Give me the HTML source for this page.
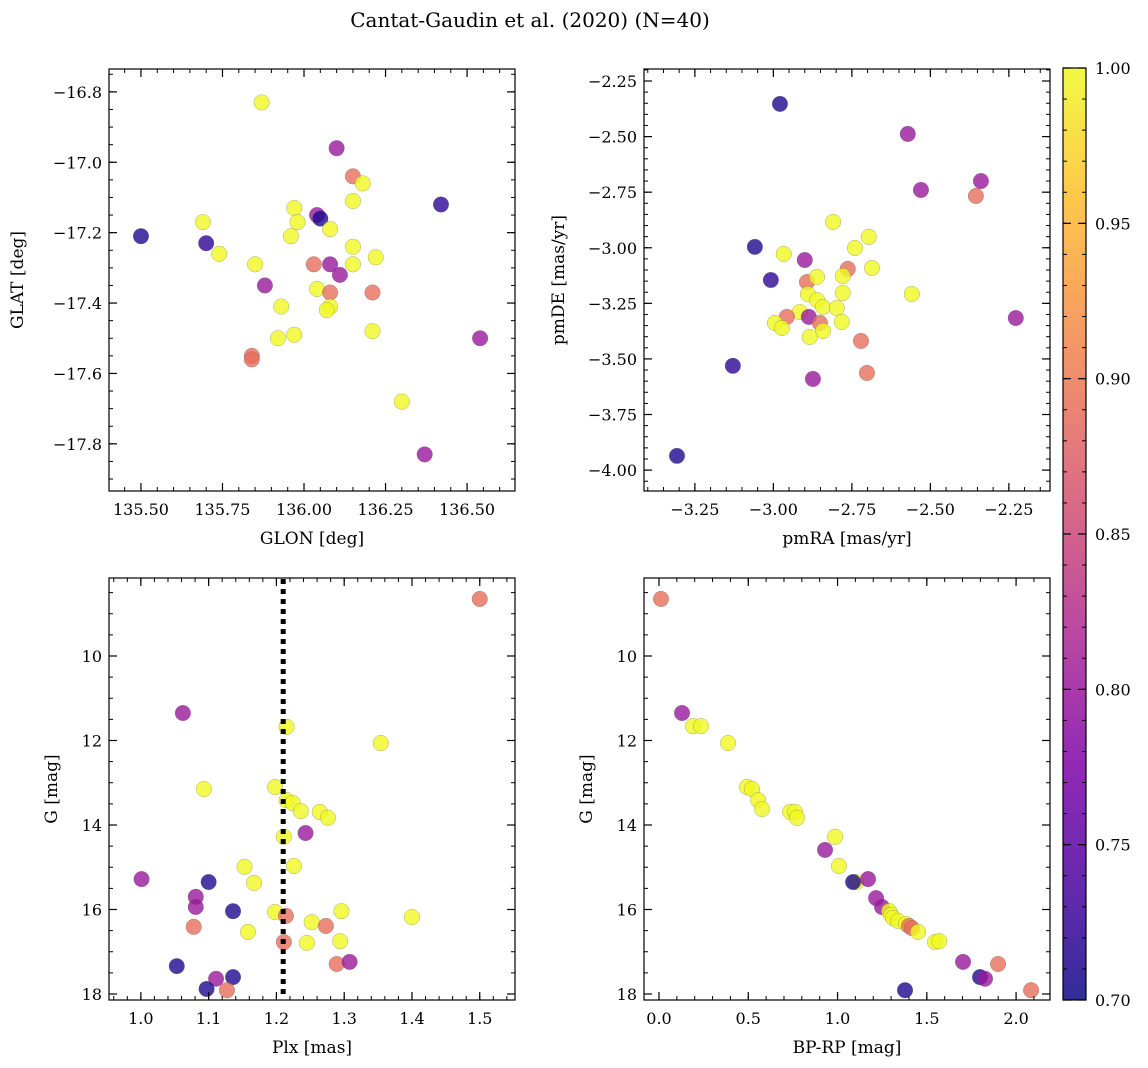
<!DOCTYPE html>
<html><head><meta charset="utf-8"><style>
body{margin:0;background:#fff}
svg{display:block;font-family:"DejaVu Serif","Liberation Serif",serif}
</style></head><body>
<svg id="fig" width="1148" height="1068" viewBox="0 0 1148 1068">
<text x="530" y="27" font-size="20" text-anchor="middle">Cantat-Gaudin et al. (2020) (N=40)</text>
</svg>
<script>
// ---- data (per panel) ----
const tlGlon=[135.50,135.69,135.70,135.74,135.87,135.85,135.88,135.93,135.92,135.84,135.84,135.97,135.98,135.96,135.97,136.04,136.05,136.08,136.03,136.08,136.11,136.04,136.08,136.08,136.07,136.10,136.15,136.18,136.15,136.15,136.15,136.22,136.21,136.21,136.30,136.42,136.54,136.37];
const tlGlat=[-17.21,-17.17,-17.23,-17.26,-16.83,-17.29,-17.35,-17.41,-17.50,-17.55,-17.56,-17.13,-17.17,-17.21,-17.49,-17.15,-17.16,-17.19,-17.29,-17.29,-17.32,-17.36,-17.37,-17.41,-17.42,-16.96,-17.04,-17.06,-17.11,-17.24,-17.29,-17.27,-17.37,-17.48,-17.68,-17.12,-17.50,-17.83];
const tlProb=[0.71,1,0.72,1,1,1,0.80,1,1,0.89,0.89,1,1,1,1,0.80,0.71,1,0.89,0.80,0.80,1,0.89,1,1,0.80,0.89,1,1,1,1,1,0.89,1,1,0.72,0.80,0.80];

const trPmra=[-2.967,-2.90,-2.696,-2.74,-2.686,-2.763,-2.779,-2.893,-2.861,-2.779,-2.89,-2.861,-2.842,-2.798,-2.916,-2.957,-2.887,-2.995,-2.973,-2.852,-2.782,-2.842,-2.884,-2.721,-2.874,-2.702,-2.81,-2.979,-3.059,-3.008,-3.129,-3.307,-2.572,-2.53,-2.339,-2.355,-2.228,-2.559];
const trPmde=[-3.028,-3.055,-2.951,-3.001,-3.091,-3.095,-3.127,-3.154,-3.131,-3.203,-3.208,-3.235,-3.266,-3.271,-3.289,-3.311,-3.311,-3.338,-3.361,-3.338,-3.334,-3.374,-3.401,-3.419,-3.59,-3.563,-2.884,-2.353,-2.996,-3.145,-3.531,-3.936,-2.488,-2.74,-2.70,-2.767,-3.316,-3.208];
const trProb=[1,0.80,1,1,1,0.89,1,0.89,1,1,1,1,1,1,1,0.89,0.80,1,1,0.89,1,1,1,0.89,0.80,0.89,1,0.71,0.71,0.72,0.72,0.71,0.80,0.80,0.80,0.89,0.80,1];

const blPlx=[1.500,1.062,1.215,1.354,1.093,1.198,1.215,1.224,1.236,1.264,1.276,1.211,1.243,1.226,1.153,1.001,1.167,1.100,1.081,1.081,1.078,1.136,1.198,1.214,1.400,1.296,1.252,1.158,1.273,1.245,1.211,1.294,1.053,1.289,1.308,1.111,1.136,1.127,1.097];
const blG=[8.65,11.35,11.68,12.06,13.15,13.10,13.41,13.48,13.67,13.69,13.83,14.28,14.19,14.97,14.99,15.28,15.37,15.35,15.70,15.94,16.41,16.04,16.06,16.15,16.18,16.04,16.30,16.53,16.39,16.79,16.77,16.75,17.34,17.29,17.24,17.64,17.60,17.91,17.88];
const blProb=[0.89,0.80,1,1,1,1,1,1,1,1,1,1,0.80,1,1,0.80,1,0.71,0.80,0.80,0.89,0.71,1,0.89,1,1,1,1,0.89,1,0.89,1,0.71,0.89,0.80,0.80,0.71,0.89,0.71];

const brBprp=[0.011,0.129,0.19,0.235,0.387,0.493,0.521,0.555,0.577,0.734,0.762,0.773,0.986,0.93,1.008,1.104,1.087,1.171,1.216,1.249,1.289,1.30,1.311,1.339,1.384,1.40,1.417,1.451,1.546,1.569,1.703,1.899,1.378,1.798,1.826,2.084];
const brG=[8.65,11.35,11.66,11.66,12.06,13.10,13.15,13.41,13.62,13.69,13.69,13.83,14.28,14.59,14.97,15.35,15.35,15.28,15.73,15.94,16.04,16.13,16.20,16.27,16.34,16.39,16.44,16.53,16.77,16.75,17.24,17.29,17.91,17.60,17.64,17.91];
const brProb=[0.89,0.80,1,1,1,1,1,1,1,1,1,1,1,0.80,1,1,0.71,0.80,0.80,0.80,1,1,1,1,1,0.89,0.89,1,1,1,0.80,0.89,0.71,0.71,0.80,0.89];

const cbTicks=[0.70,0.75,0.80,0.85,0.90,0.95,1.00];
const plxLine=[1.21];

// ---- plasma colormap ----
const plasma=[[13,8,135],[75,3,161],[125,3,168],[168,34,150],[203,70,121],[229,107,93],[248,148,65],[253,195,40],[240,249,33]];
function cmap(t){t=Math.max(0,Math.min(1,t));const s=t*(plasma.length-1);const i=Math.min(Math.floor(s),plasma.length-2);const f=s-i;
 const c=plasma[i].map((v,k)=>Math.round(v+(plasma[i+1][k]-v)*f));return `rgb(${c[0]},${c[1]},${c[2]})`;}
const vmin=0.7,vmax=1.0;
const NS="http://www.w3.org/2000/svg";
const fig=document.getElementById('fig');
function el(tag,attrs,parent){const e=document.createElementNS(NS,tag);for(const k in attrs)e.setAttribute(k,attrs[k]);(parent||fig).appendChild(e);return e;}

function panel(name,box,xd,yd,xmaj,xfmt,xminorN,ymaj,yfmt,yminorN,xlabel,ylabel,xs,ys,cs,invertY){
 const g=el('g',{});
 
 
 const X=v=>box.x0+(v-xd[0])/(xd[1]-xd[0])*(box.x1-box.x0);
 const Y=v=>invertY? box.y0+(v-yd[0])/(yd[1]-yd[0])*(box.y1-box.y0) : box.y1-(v-yd[0])/(yd[1]-yd[0])*(box.y1-box.y0);
 // points
 for(let i=0;i<xs.length;i++){
  const c=el('circle',{cx:X(xs[i]),cy:Y(ys[i]),r:7.8,fill:cmap((cs[i]-vmin)/(vmax-vmin)),'fill-opacity':0.8,stroke:'#555','stroke-width':0.4,'stroke-opacity':0.6},g);
  
  
 }
 // ticks
 const step=xmaj[1]-xmaj[0];
 for(let v=xmaj[0]-step;v<=xd[1]+1e-9;v+=step/xminorN){
  if(v<xd[0]-1e-9)continue;const px=X(v);
  el('line',{x1:px,x2:px,y1:box.y1,y2:box.y1-4,stroke:'#000','stroke-width':1},g);
  el('line',{x1:px,x2:px,y1:box.y0,y2:box.y0+4,stroke:'#000','stroke-width':1},g);}
 xmaj.forEach(v=>{const px=X(v);
  el('line',{x1:px,x2:px,y1:box.y1,y2:box.y1-8,stroke:'#000','stroke-width':1.2},g);
  el('line',{x1:px,x2:px,y1:box.y0,y2:box.y0+8,stroke:'#000','stroke-width':1.2},g);
  const t=el('text',{x:px,y:box.y1+24,'font-size':16,'text-anchor':'middle'},g);t.textContent=xfmt(v);
  
  });
 const ys2=ymaj[1]-ymaj[0];
 const ylo=Math.min(yd[0],yd[1]),yhi=Math.max(yd[0],yd[1]);
 for(let v=ymaj[0]-Math.abs(ys2)*2;v<=yhi+1e-9;v+=Math.abs(ys2)/yminorN){
  if(v<ylo-1e-9)continue;const py=Y(v);
  el('line',{x1:box.x0,x2:box.x0+4,y1:py,y2:py,stroke:'#000','stroke-width':1},g);
  el('line',{x1:box.x1,x2:box.x1-4,y1:py,y2:py,stroke:'#000','stroke-width':1},g);}
 ymaj.forEach(v=>{const py=Y(v);
  el('line',{x1:box.x0,x2:box.x0+8,y1:py,y2:py,stroke:'#000','stroke-width':1.2},g);
  el('line',{x1:box.x1,x2:box.x1-8,y1:py,y2:py,stroke:'#000','stroke-width':1.2},g);
  const t=el('text',{x:box.x0-7,y:py+6,'font-size':16,'text-anchor':'end'},g);t.textContent=yfmt(v);
  
  });
 const fr=el('rect',{x:box.x0,y:box.y0,width:box.x1-box.x0,height:box.y1-box.y0,fill:'none',stroke:'#000','stroke-width':1.2},g);
 
 
 const xl=el('text',{x:(box.x0+box.x1)/2,y:box.y1+53,'font-size':17,'text-anchor':'middle'},g);xl.textContent=xlabel;
 
 
 const cy=(box.y0+box.y1)/2;
 const yl=el('text',{x:box.x0-ylabel.off,y:cy,'font-size':17,'text-anchor':'middle',transform:`rotate(-90 ${box.x0-ylabel.off} ${cy})`},g);yl.textContent=ylabel.t;
 
 
 return {X,Y,g};
}
const minus=s=>s.replace('-','\u2212');
panel('glon-glat-panel',{x0:109,x1:515,y0:69,y1:491},[135.402,136.647],[-17.934,-16.735],[135.5,135.75,136,136.25,136.5],v=>v.toFixed(2),5,[-17.8,-17.6,-17.4,-17.2,-17.0,-16.8],v=>minus(v.toFixed(1)),4,'GLON [deg]',{t:'GLAT [deg]',off:86},tlGlon,tlGlat,tlProb,false);
panel('pm-panel',{x0:644,x1:1050,y0:69,y1:491},[-3.412,-2.119],[-4.094,-2.196],[-3.25,-3,-2.75,-2.5,-2.25],v=>minus(v.toFixed(2)),5,[-4,-3.75,-3.5,-3.25,-3,-2.75,-2.5,-2.25],v=>minus(v.toFixed(2)),5,'pmRA [mas/yr]',{t:'pmDE [mas/yr]',off:80},trPmra,trPmde,trProb,false);
const bl=panel('plx-g-panel',{x0:109,x1:515,y0:578,y1:1000},[0.953,1.552],[8.154,18.142],[1.0,1.1,1.2,1.3,1.4,1.5],v=>v.toFixed(1),5,[10,12,14,16,18],v=>String(v),4,'Plx [mas]',{t:'G [mag]',off:52},blPlx,blG,blProb,true);
plxLine.forEach(v=>{const l=el('line',{x1:bl.X(v),x2:bl.X(v),y1:579,y2:999,stroke:'#000','stroke-width':5,'stroke-dasharray':'5,5'},bl.g);
 
 });
panel('cmd-panel',{x0:644,x1:1050,y0:578,y1:1000},[-0.084,2.19],[8.154,18.142],[0,0.5,1,1.5,2],v=>v.toFixed(1),5,[10,12,14,16,18],v=>String(v),4,'BP-RP [mag]',{t:'G [mag]',off:52},brBprp,brG,brProb,true);

// colorbar
const cb={x0:1063,x1:1086,y0:68,y1:1000};
const defs=el('defs',{});
const lg=el('linearGradient',{id:'cbg',x1:0,y1:1,x2:0,y2:0},defs);
for(let i=0;i<=20;i++){el('stop',{offset:i/20,'stop-color':cmap(i/20),'stop-opacity':0.85},lg);}
const cbr=el('rect',{x:cb.x0,y:cb.y0,width:cb.x1-cb.x0,height:cb.y1-cb.y0,fill:'url(#cbg)',stroke:'#000','stroke-width':1.2});


const CY=v=>cb.y1-(v-vmin)/(vmax-vmin)*(cb.y1-cb.y0);
for(let v=vmin;v<=vmax+1e-9;v+=0.01){el('line',{x1:cb.x1,x2:cb.x1-4,y1:CY(v),y2:CY(v),stroke:'#000'});el('line',{x1:cb.x0,x2:cb.x0+4,y1:CY(v),y2:CY(v),stroke:'#000'});}
cbTicks.forEach(v=>{el('line',{x1:cb.x1,x2:cb.x1-8,y1:CY(v),y2:CY(v),stroke:'#000','stroke-width':1.2});el('line',{x1:cb.x0,x2:cb.x0+8,y1:CY(v),y2:CY(v),stroke:'#000','stroke-width':1.2});
 const t=el('text',{x:cb.x1+9,y:CY(v)+6,'font-size':16},null);t.textContent=v.toFixed(2);
 
 });
</script>
</body></html>
